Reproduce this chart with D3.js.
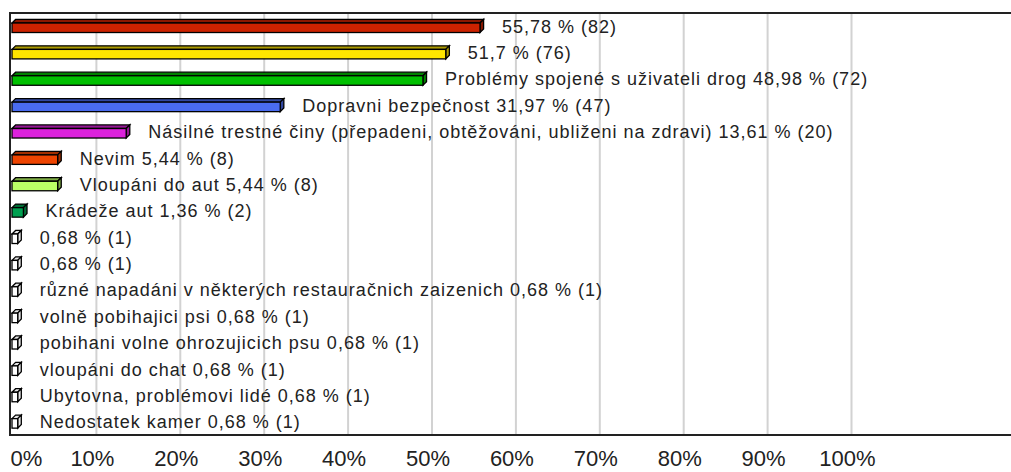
<!DOCTYPE html>
<html><head><meta charset="utf-8">
<script src="https://cdn.jsdelivr.net/npm/d3@7"></script>
<style>body{margin:0;background:#fff} svg{display:block}</style>
</head><body><svg id="c" width="1011" height="472"></svg>
<script>
const categories = [
  "", "", "Problémy spojené s uživateli drog", "Dopravni bezpečnost",
  "Násilné trestné činy (přepadeni, obtěžováni, ubliženi na zdravi)",
  "Nevim", "Vloupáni do aut", "Krádeže aut", "", "",
  "různé napadáni v některých restauračnich zaizenich",
  "volně pobihajici psi ", "pobihani volne ohrozujicich psu",
  "vloupáni do chat", "Ubytovna, problémovi lidé", "Nedostatek kamer"
];
const percents = [55.78, 51.7, 48.98, 31.97, 13.61, 5.44, 5.44, 1.36,
  0.68, 0.68, 0.68, 0.68, 0.68, 0.68, 0.68, 0.68];
const counts = [82, 76, 72, 47, 20, 8, 8, 2, 1, 1, 1, 1, 1, 1, 1, 1];
const colors = ["#cc2200", "#ffe600", "#00c000", "#4a6cf0", "#dd22dd", "#ee4400",
  "#bbff66", "#00a050", "#ffffff", "#ffffff", "#ffffff", "#ffffff",
  "#ffffff", "#ffffff", "#ffffff", "#ffffff"];
const xTicks = [0, 10, 20, 30, 40, 50, 60, 70, 80, 90, 100];
const tickLabels = ["0%", "10%", "20%", "30%", "40%", "50%", "60%", "70%", "80%", "90%", "100%"];

(function () {
const svg = d3.select("#c");
const W = 1011, pTop = 13, pBottom = 435;
const x = d3.scaleLinear().domain([0, 100]).range([12, 851]);
const y = d3.scaleBand().domain(d3.range(categories.length)).range([pTop, pBottom]);
const bw = y.bandwidth();

// gridlines
const grid = svg.append("g").attr("transform", `translate(0,${pBottom})`)
  .call(d3.axisBottom(x).tickValues(xTicks.filter(t => t > 0)).tickSize(-(pBottom - pTop)).tickFormat(""));
grid.select(".domain").remove();
grid.selectAll("line").attr("stroke", "#d2d2d2").attr("stroke-width", 2);

// bars
const fmt = v => String(v).replace(".", ",");
const d = 3.6;
const bars = svg.append("g");
percents.forEach((v, i) => {
  const x0 = x(0), x1 = x(v);
  const t = y(i) + bw * 0.38, h = bw * 0.36;
  const c = colors[i];
  const dark = d3.color(c).darker(c === "#ffffff" ? 0.3 : 1.1).formatHex();
  const g = bars.append("g").attr("stroke", "#000").attr("stroke-width", 1.3).attr("stroke-linejoin", "miter");
  g.append("path").attr("fill", dark)
    .attr("d", `M${x0},${t}L${x0 + d},${t - d}L${x1 + d},${t - d}L${x1},${t}Z`);
  g.append("path").attr("fill", dark)
    .attr("d", `M${x1},${t}L${x1 + d},${t - d}L${x1 + d},${t + h - d}L${x1},${t + h}Z`);
  g.append("rect").attr("fill", c).attr("x", x0).attr("y", t).attr("width", x1 - x0).attr("height", h);
  svg.append("text")
    .attr("x", x1 + 22).attr("y", y(i) + bw / 2 + 6.5)
    .attr("font-family", "Liberation Sans, Arial, sans-serif").attr("font-size", 18)
    .attr("letter-spacing", 1).attr("fill", "#222")
    .text((categories[i] ? categories[i] + " " : "") + fmt(v) + " % (" + counts[i] + ")");
});

// frame
svg.append("line").attr("x1", 9).attr("x2", W).attr("y1", pTop).attr("y2", pTop).attr("stroke", "#222").attr("stroke-width", 2);
svg.append("line").attr("x1", 10).attr("x2", 10).attr("y1", pTop).attr("y2", pBottom).attr("stroke", "#222").attr("stroke-width", 2);
svg.append("line").attr("x1", 9).attr("x2", W).attr("y1", pBottom).attr("y2", pBottom).attr("stroke", "#222").attr("stroke-width", 2);

// tick labels
const ax = svg.append("g").attr("transform", `translate(0,${pBottom})`)
  .call(d3.axisBottom(x).tickValues(xTicks).tickSize(0).tickFormat((t, i) => tickLabels[i]));
ax.select(".domain").remove();
ax.selectAll("text")
  .attr("font-family", "Liberation Sans, Arial, sans-serif").attr("font-size", 22)
  .attr("fill", "#222").attr("dy", 0).attr("y", 31)
  .attr("x", t => t === 0 ? -2 : -4)
  .attr("text-anchor", t => t === 0 ? "start" : "middle");
})();
</script></body></html>
